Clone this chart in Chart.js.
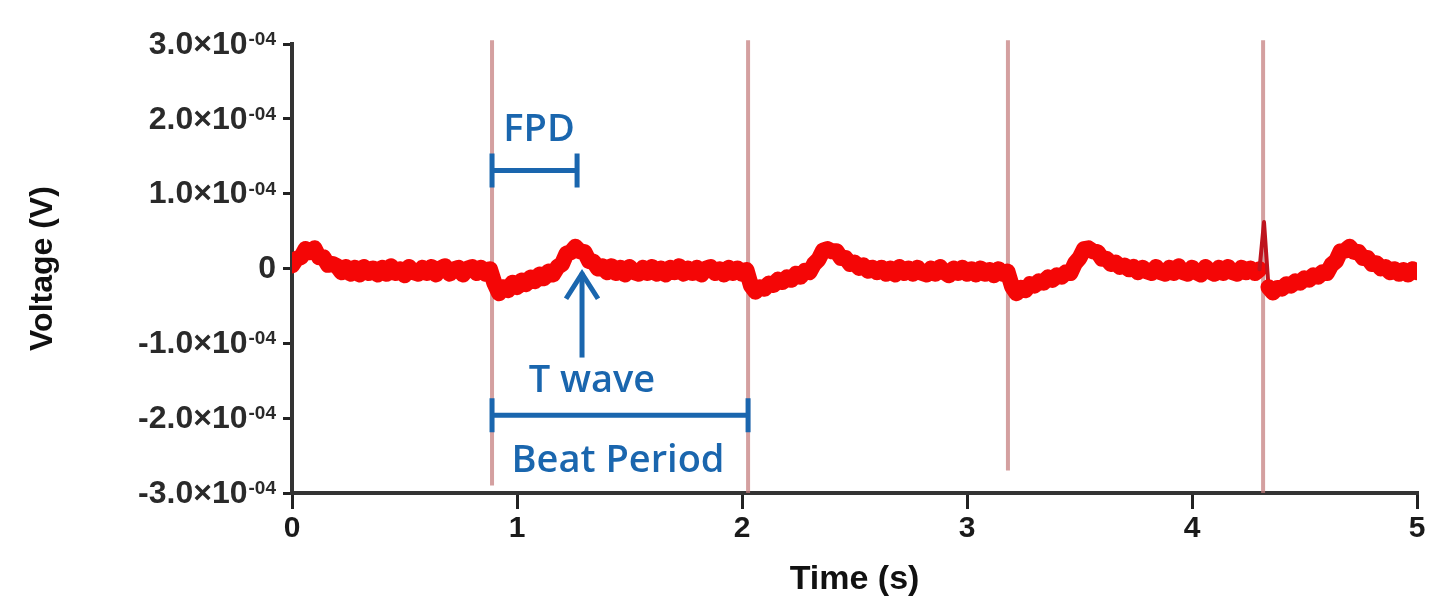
<!DOCTYPE html>
<html>
<head>
<meta charset="utf-8">
<title>Field potential trace</title>
<script src="https://cdn.jsdelivr.net/npm/chart.js@4.4.1/dist/chart.umd.min.js"></script>
<style>
  html, body { margin: 0; padding: 0; background: #fff; }
  #trace { display: block; }
</style>
</head>
<body>
<canvas id="trace" width="1429" height="606"></canvas>
<script>
// sampling step of the trace (s)
const sampleStep = 0.02;

// voltage, in µV (1.0x10^-04 V = 100 µV), one value per sample
const voltage = [
    4, 13, 15, 26, 22, 27, 15, 15, 5, 6,
    3, -5, 2, -7, 1, -8, 2, -6, 0, -8,
    1, -7, 3, -6, -1, -9, 2, -5, -7, 1,
    -6, 2, -8, 0, 3, -7, -1, 1, -8, 0,
    2, -6, 1, -7, -1, -20, -33, -25, -29, -19,
    -25, -16, -21, -12, -17, -8, -13, -4, -8, 2,
    6, 20, 22, 29, 23, 22, 10, 9, 0, 3,
    -5, 3, -6, 1, -8, 2, -5, -7, 1, -6,
    2, -7, 0, -8, 1, -5, 3, -7, 0, -6,
    1, -8, 0, 2, -6, -1, -8, 1, -6, 0,
    -7, -2, -23, -31, -25, -27, -20, -22, -15, -18,
    -12, -15, -7, -11, -3, -5, 6, 12, 24, 26,
    23, 23, 14, 14, 6, 8, 1, 4, -3, 1,
    -5, 1, -7, 0, -8, 2, -6, 0, -7, 1,
    -6, -8, 0, -7, 2, -5, -9, 0, -6, 1,
    -7, -1, -8, 0, -7, -2, -9, -1, -7, -4,
    -24, -33, -26, -29, -21, -23, -17, -19, -12, -15,
    -9, -11, -5, -6, 7, 14, 26, 27, 23, 22,
    13, 13, 6, 8, 2, 4, -1, 2, -5, 1,
    -4, -6, 2, -5, -7, 1, -6, 3, -5, -7,
    1, -5, -8, 2, -4, -7, 1, -6, 2, -5,
    -7, 1, -5, 0, -6, -1, 62, -25, -32, -26,
    -27, -21, -23, -17, -19, -13, -15, -9, -11, -5,
    -6, 5, 10, 23, 24, 29, 22, 22, 14, 14,
    6, 7, 0, 2, -5, -1, -7, -2, -8, -1,
    -5
];

// beat onsets (s) and where each marker line stops at the bottom (µV)
const beatTimes = [0.889, 2.027, 3.182, 4.316];
const beatLineBottoms = [-290, -300, -270, -300];
const beatLineTop = 305;

// axis ticks
const xTicks = [0, 1, 2, 3, 4, 5];
const yTicks = [-300, -200, -100, 0, 100, 200, 300];

// annotations, in data units
const tWaveTime = 1.267;
const fpdLevel = 131;
const beatPeriodLevel = -196;
const arrowTime = 1.289;
const arrowTip = -3;
const arrowTail = -119;

const times = voltage.map((_, i) => +(i * sampleStep).toFixed(2));

const blue = '#1a66ae';
const labelFont = 'Liberation Sans, Arial, sans-serif';

// y tick labels as mantissa x 10 with a raised exponent
const voltLabels = {
    id: 'voltLabels',
    afterDraw(chart) {
        const { ctx, scales: { y } } = chart;
        const right = y.right - 16;
        ctx.save();
        ctx.fillStyle = '#2a2a2a';
        y.ticks.forEach(({ value }) => {
            const py = y.getPixelForValue(value);
            ctx.textAlign = 'right';
            if (value === 0) {
                ctx.font = `bold 32px ${labelFont}`;
                ctx.textBaseline = 'middle';
                ctx.fillText('0', right, py + 1);
                return;
            }
            const sup = '-04';
            ctx.font = `bold 19px ${labelFont}`;
            ctx.textBaseline = 'alphabetic';
            const supWidth = ctx.measureText(sup).width;
            ctx.fillText(sup, right, py + 1);
            const mantissa = (value < 0 ? '-' : '') + (Math.abs(value) / 100).toFixed(1) + '\u00d710';
            ctx.font = `bold 32px ${labelFont}`;
            ctx.textBaseline = 'middle';
            ctx.fillText(mantissa, right - supWidth - 1, py + 1);
        });
        ctx.restore();
    }
};

const markers = {
    id: 'markers',
    beforeDatasetsDraw(chart) {
        const { ctx, scales: { x, y } } = chart;
        ctx.save();
        ctx.strokeStyle = 'rgba(196, 124, 124, 0.72)';
        ctx.lineWidth = 4;
        beatTimes.forEach((t, i) => {
            const px = x.getPixelForValue(t);
            ctx.beginPath();
            ctx.moveTo(px, y.getPixelForValue(beatLineTop));
            ctx.lineTo(px, y.getPixelForValue(beatLineBottoms[i]));
            ctx.stroke();
        });
        ctx.restore();
    },
    afterDatasetsDraw(chart) {
        const { ctx, scales: { x, y } } = chart;
        ctx.save();
        ctx.strokeStyle = blue;
        ctx.fillStyle = blue;
        ctx.lineWidth = 5;
        ctx.lineCap = 'butt';

        // brackets: FPD and beat period
        const bracket = (t0, t1, level) => {
            const x0 = x.getPixelForValue(t0);
            const x1 = x.getPixelForValue(t1);
            const py = y.getPixelForValue(level);
            ctx.beginPath();
            ctx.moveTo(x0, py);
            ctx.lineTo(x1, py);
            ctx.moveTo(x0, py - 17);
            ctx.lineTo(x0, py + 17);
            ctx.moveTo(x1, py - 17);
            ctx.lineTo(x1, py + 17);
            ctx.stroke();
        };
        bracket(beatTimes[0], tWaveTime, fpdLevel);
        bracket(beatTimes[0], beatTimes[1], beatPeriodLevel);

        // T wave arrow
        const ax = x.getPixelForValue(arrowTime);
        const tipY = y.getPixelForValue(arrowTip);
        ctx.beginPath();
        ctx.moveTo(ax, y.getPixelForValue(arrowTail));
        ctx.lineTo(ax, tipY + 2);
        ctx.stroke();
        ctx.beginPath();
        ctx.moveTo(ax - 16, tipY + 28);
        ctx.lineTo(ax, tipY + 3);
        ctx.lineTo(ax + 16, tipY + 28);
        ctx.stroke();

        // labels
        ctx.font = '600 38px "Open Sans", sans-serif';
        ctx.textAlign = 'center';
        ctx.textBaseline = 'middle';
        ctx.fillText('FPD', x.getPixelForValue(1.098), y.getPixelForValue(185));
        ctx.fillText('T wave', x.getPixelForValue(1.333), y.getPixelForValue(-150));
        ctx.fillText('Beat Period', x.getPixelForValue(1.449), y.getPixelForValue(-257));
        ctx.restore();
    }
};

const traceCtx = document.getElementById('trace').getContext('2d');

const traceChart = new Chart(traceCtx, {
    type: 'line',
    data: {
        datasets: [{
            label: 'Voltage',
            data: times.map((t, i) => ({ x: t, y: voltage[i] })),
            borderColor: 'rgb(244, 6, 6)',
            borderWidth: 16,
            borderJoinStyle: 'round',
            borderCapStyle: 'round',
            pointRadius: 0,
            tension: 0,
            fill: false,
            // the stimulus spike is a thin stroke, not part of the thick band
            segment: {
                borderWidth: (c) => (c.p0.parsed.y > 40 || c.p1.parsed.y > 40) ? 4 : undefined,
                borderColor: (c) => (c.p0.parsed.y > 40 || c.p1.parsed.y > 40) ? 'rgb(190, 20, 30)' : undefined,
            },
        }],
    },
    options: {
        responsive: false,
        animation: false,
        layout: { padding: { top: 44, right: 12, left: 0, bottom: 0 } },
        plugins: {
            legend: { display: false },
            tooltip: { enabled: false },
        },
        scales: {
            x: {
                type: 'linear',
                min: xTicks[0],
                max: xTicks[xTicks.length - 1],
                afterBuildTicks: (scale) => { scale.ticks = xTicks.map(v => ({ value: v })); },
                afterFit: (scale) => { scale.height = 113; },
                ticks: {
                    color: '#1a1a1a',
                    font: { family: labelFont, size: 30, weight: 'bold' },
                    padding: 2,
                    maxRotation: 0,
                },
                grid: { drawOnChartArea: false, drawTicks: true, tickLength: 16, color: '#222', lineWidth: 3 },
                border: { display: true, color: '#333', width: 4 },
                title: {
                    display: true,
                    text: 'Time (s)',
                    color: '#111',
                    font: { family: labelFont, size: 34, weight: 'bold' },
                    padding: { top: 0, bottom: 6 },
                },
            },
            y: {
                min: yTicks[0],
                max: yTicks[yTicks.length - 1],
                afterBuildTicks: (scale) => { scale.ticks = yTicks.map(v => ({ value: v })); },
                afterFit: (scale) => { scale.width = 292; },
                ticks: { display: false },
                grid: { drawOnChartArea: false, drawTicks: true, tickLength: 9, color: '#222', lineWidth: 3 },
                border: { display: true, color: '#333', width: 4 },
                title: {
                    display: true,
                    text: 'Voltage (V)',
                    color: '#111',
                    font: { family: labelFont, size: 32, weight: 'bold' },
                    padding: { top: 24, bottom: 0 },
                },
            },
        },
    },
    plugins: [markers, voltLabels],
});
</script>
</body>
</html>
